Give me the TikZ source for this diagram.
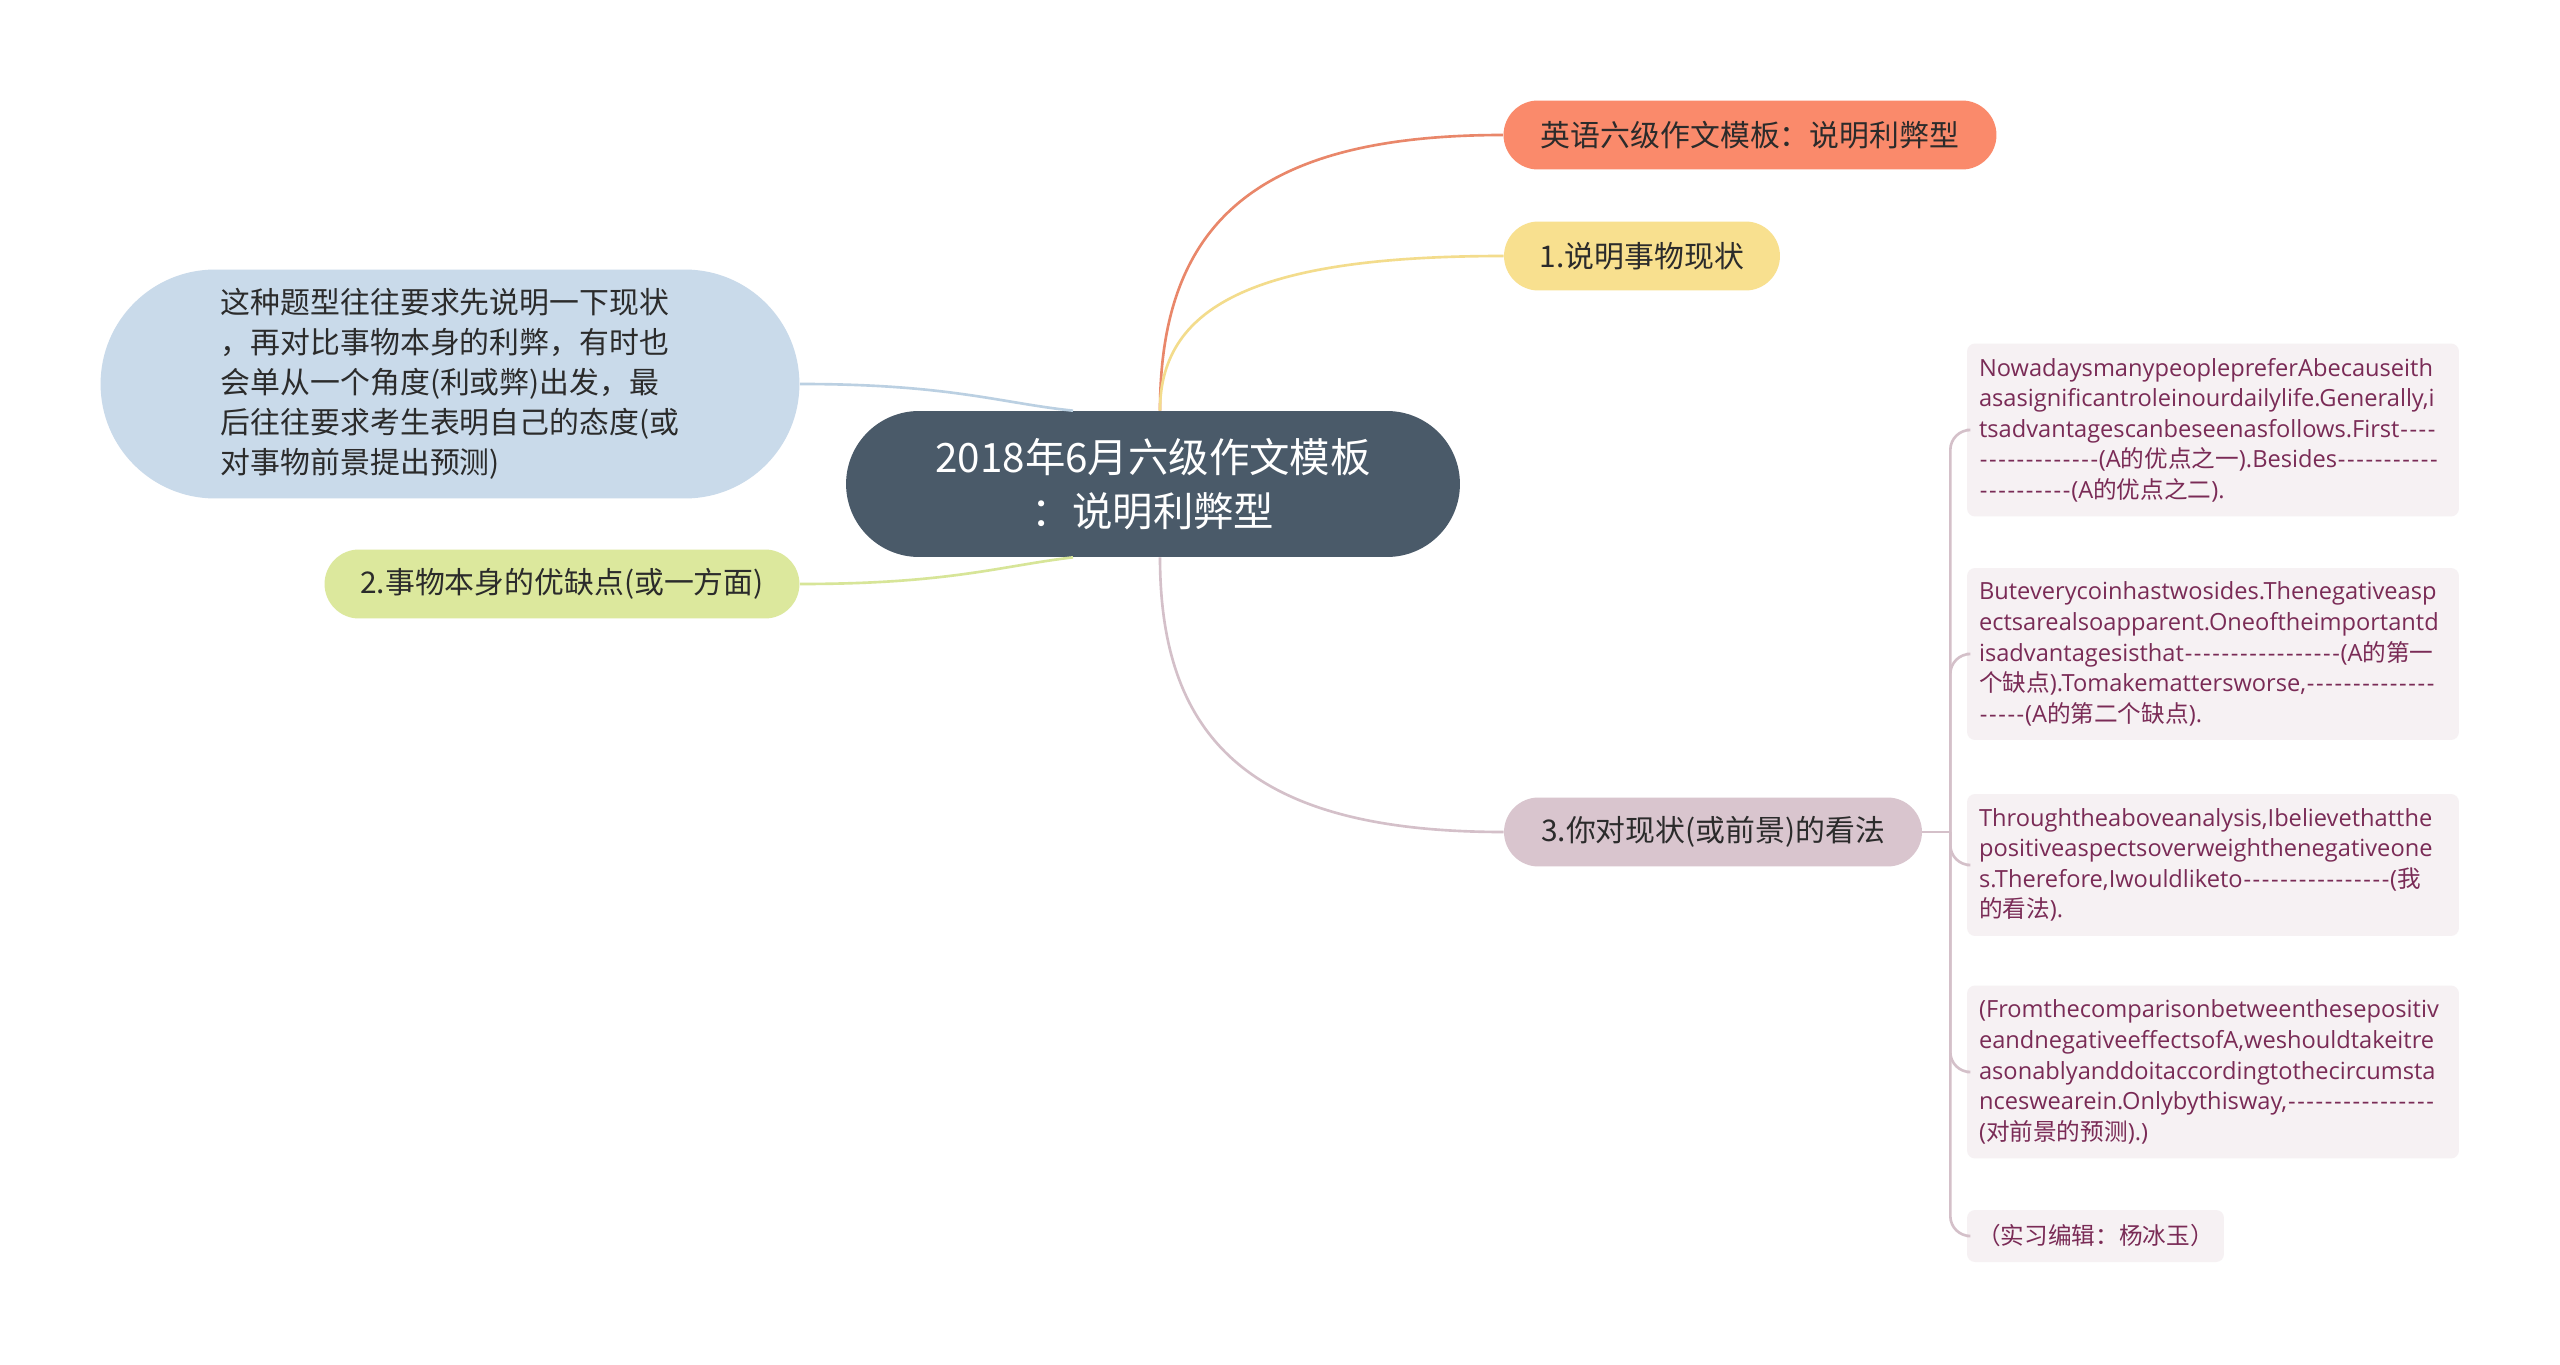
\documentclass[tikz,border=0pt]{standalone}
\usepackage{fontspec}
\setmainfont{Noto Sans CJK SC}
\newfontfamily\cjk{Noto Sans CJK SC}
\newfontfamily\lat{Open Sans}[Ligatures=TeXOff]
\usetikzlibrary{calc}
\definecolor{cmain}{HTML}{4A5A69}
\definecolor{corange}{HTML}{FA8A6B}
\definecolor{corangel}{HTML}{E9876A}
\definecolor{cyellow}{HTML}{F8E08F}
\definecolor{cyellowl}{HTML}{F3DC8C}
\definecolor{cmauve}{HTML}{D9C5CE}
\definecolor{cmauvel}{HTML}{D4C0C9}
\definecolor{cblue}{HTML}{C9DAEA}
\definecolor{cbluel}{HTML}{BBD0E2}
\definecolor{cgreen}{HTML}{DCE89D}
\definecolor{cgreenl}{HTML}{D7E598}
\definecolor{cboxfill}{HTML}{F6F1F3}
\definecolor{cboxtext}{HTML}{7A2B56}
\definecolor{ctext}{HTML}{2B2B2B}
\ExplSyntaxOn
\NewDocumentCommand\hyps{m}{\prg_replicate:nn{#1}{\makebox[0.39em][c]{-}}}
\ExplSyntaxOff
\tikzset{
  pill/.style={inner sep=0pt, align=center, text=ctext,
    font=\fontsize{17pt}{22.7pt}\selectfont,
    minimum height=1.38cm, rounded corners=0.69cm},
  tbox/.style={fill=cboxfill, rounded corners=0.16cm, inner sep=0pt,
    text=cboxtext, font=\lat\fontsize{13.45pt}{17.4pt}\selectfont,
    minimum width=9.84cm},
  conn/.style={line width=1.5pt},
}
\begin{document}
\begin{tikzpicture}[x=0.02cm,y=-0.02cm]
\useasboundingbox (0,0) rectangle (2560,1365);
\fill[white] (0,0) rectangle (2560,1365);

% central
\node[pill, fill=cmain, text=white, minimum width=12.28cm, minimum height=2.92cm,
  rounded corners=1.46cm, font=\fontsize{23pt}{30.6pt}\selectfont]
  (c) at (1153,484) {2018年6月六级作文模板\\：说明利弊型};

% right children
\node[pill, fill=corange, minimum width=9.86cm] (top) at (1750,135) {英语六级作文模板：说明利弊型};
\node[pill, fill=cyellow, minimum width=5.52cm] (n1) at (1642,256) {1.说明事物现状};
\node[pill, fill=cmauve, minimum width=8.36cm] (n3) at (1713,832) {3.你对现状(或前景)的看法};

% left children
\node[pill, fill=cblue, minimum width=13.98cm, minimum height=4.58cm,
  rounded corners=2.29cm, align=left] (bl) at (450,384)
  {这种题型往往要求先说明一下现状\\，再对比事物本身的利弊，有时也\\会单从一个角度(利或弊)出发，最\\后往往要求考生表明自己的态度(或\\对事物前景提出预测)};
\node[pill, fill=cgreen, minimum width=9.5cm] (n2) at (562,584) {2.事物本身的优缺点(或一方面)};

% right text boxes
\node[tbox, minimum height=3.46cm, text width=9.36cm, align=left] (b1) at (2213,430)
  {NowadaysmanypeoplepreferAbecauseith\\
   asasignificantroleinourdailylife.Generally,i\\
   tsadvantagescanbeseenasfollows.First\hyps{4}\\
   \hyps{13}(A{\cjk 的优点之一}).Besides\hyps{11}\\
   \hyps{10}(A{\cjk 的优点之二}).};
\node[tbox, minimum height=3.44cm, text width=9.36cm, align=left] (b2) at (2213,654)
  {Buteverycoinhastwosides.Thenegativeasp\\
   ectsarealsoapparent.Oneoftheimportantd\\
   isadvantagesisthat\hyps{17}(A{\cjk 的第一}\\
   {\cjk 个缺点}).Tomakemattersworse,\hyps{14}\\
   \hyps{5}(A{\cjk 的第二个缺点}).};
\node[tbox, minimum height=2.84cm, text width=9.36cm, align=left] (b3) at (2213,865)
  {Throughtheaboveanalysis,Ibelievethatthe\\
   positiveaspectsoverweighthenegativeone\\
   s.Therefore,Iwouldliketo\hyps{16}({\cjk 我}\\
   {\cjk 的看法}).};
\node[tbox, minimum height=3.46cm, text width=9.36cm, align=left] (b4) at (2213,1072)
  {(Fromthecomparisonbetweenthesepositiv\\
   eandnegativeeffectsofA,weshouldtakeitre\\
   asonablyanddoitaccordingtothecircumsta\\
   nceswearein.Onlybythisway,\hyps{16}\\
   ({\cjk 对前景的预测}).)};
\node[tbox, minimum width=5.14cm, minimum height=1.04cm, align=center] (b5) at (2095.5,1236)
  {{\cjk （实习编辑：杨冰玉）}};

% connectors from the central node
\coordinate (cn) at ([xshift=0.14cm]c.north);
\coordinate (cs) at ([xshift=0.14cm]c.south);
\coordinate (cnl) at ([xshift=-1.6cm]c.north);
\coordinate (csl) at ([xshift=-1.6cm]c.south);
\draw[conn, corangel] (cn) .. controls ($(cn)!0.7!(cn |- top.west)$) and ($(top.west)!0.7!(cn |- top.west)$) .. (top.west);
\draw[conn, cyellowl] (cn) .. controls ($(cn)!0.7!(cn |- n1.west)$) and ($(n1.west)!0.7!(cn |- n1.west)$) .. (n1.west);
\draw[conn, cmauvel] (cs) .. controls ($(cs)!0.7!(cs |- n3.west)$) and ($(n3.west)!0.7!(cs |- n3.west)$) .. (n3.west);
\draw[conn, cbluel] (bl.east) .. controls +(150,0) and (1000,403) .. (cnl);
\draw[conn, cgreenl] (n2.east) .. controls +(150,0) and (1000,566) .. (csl);

% bracket from node 3 to the text boxes
\coordinate (j) at ([xshift=0.56cm]n3.east);
\draw[conn, cmauvel] (n3.east) -- (j);
\foreach \b in {b1,b2,b3,b4,b5}
  \draw[conn, cmauvel, rounded corners=0.4cm] (j) |- (\b.west);
\end{tikzpicture}
\end{document}
